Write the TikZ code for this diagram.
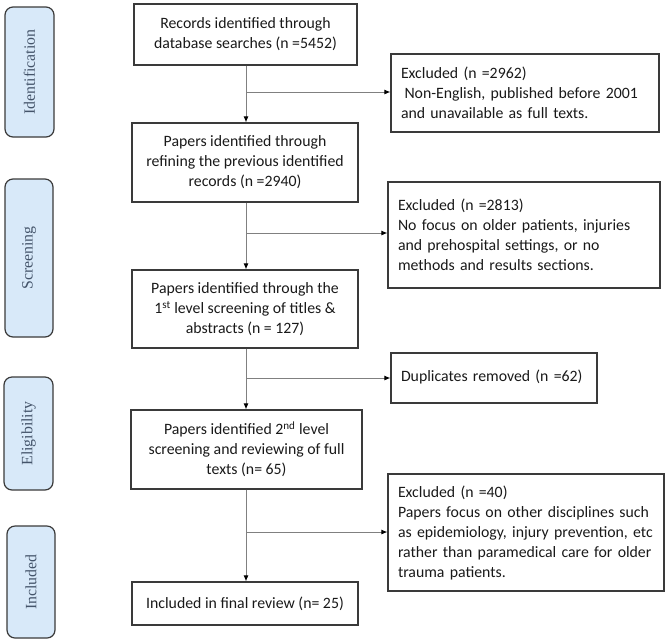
\documentclass[tikz,border=0pt]{standalone}
\usepackage{fontspec}
\setmainfont{Carlito}
\newfontfamily\tnr{Liberation Serif}
\usetikzlibrary{arrows.meta}
\definecolor{sidefill}{HTML}{D8E9F9}
\definecolor{sidetext}{HTML}{44546A}
\definecolor{boxline}{HTML}{3A3A3A}
\definecolor{arrline}{HTML}{808080}
\begin{document}
\begin{tikzpicture}[x=1pt,y=-1pt,
  mainbox/.style={draw=boxline,line width=1.2pt,align=center,inner sep=0pt,
    font=\fontsize{15.8}{20}\selectfont,text=black!90},
  sidebox/.style={draw=boxline,line width=1.2pt,fill=sidefill,rounded corners=8pt,
    rotate=90,inner sep=0pt,font=\tnr\fontsize{15.8}{20}\selectfont,text=sidetext},
  exbox/.style={draw=boxline,line width=1.2pt,align=left,inner xsep=10pt,inner ysep=0pt,
    font=\fontsize{15.8}{20}\selectfont,text=black!90},
  flow/.style={draw=arrline,line width=0.9pt,-{Latex[length=6pt,width=5pt,color=black]}},
  branch/.style={draw=arrline,line width=0.9pt}
]
\useasboundingbox (0,0) rectangle (666,641);

% side labels
\node[sidebox,minimum width=130pt,minimum height=49pt] (L1) at (29.5,72) {Identification};
\node[sidebox,minimum width=158pt,minimum height=48pt] (L2) at (29,258) {Screening};
\node[sidebox,minimum width=113pt,minimum height=49pt] (L3) at (28.5,433.5) {Eligibility};
\node[sidebox,minimum width=112pt,minimum height=48pt] (L4) at (31,582) {Included};

% main boxes
\node[mainbox,minimum width=223pt,minimum height=61pt] (B1) at (245.5,34.5)
  {Records identified through\\database searches (n =5452)};
\node[mainbox,minimum width=226pt,minimum height=79pt] (B2) at (245,162.5)
  {Papers identified through\\refining the previous identified\\records (n =2940)};
\node[mainbox,minimum width=226pt,minimum height=78pt] (B3) at (245,309)
  {Papers identified through the\\1\textsuperscript{st} level screening of titles \&\\abstracts (n = 127)};
\node[mainbox,minimum width=231pt,minimum height=79pt] (B4) at (246.5,449.5)
  {Papers identified 2\textsuperscript{nd} level\\screening and reviewing of full\\texts (n= 65)};
\node[mainbox,minimum width=226pt,minimum height=43pt] (B5) at (245,603.5)
  {Included in final review (n= 25)};

% exclusion boxes
\node[exbox,text width=248pt,minimum height=78pt] (E1) at (525,93)
  {Excluded (n =2962)\\\hspace*{3.5pt}Non-English, published before 2001\\and unavailable as full texts.};
\node[exbox,text width=252pt,minimum height=106pt] (E2) at (524,235)
  {Excluded (n =2813)\\No focus on older patients, injuries\\and prehospital settings, or no\\methods and results sections.};
\node[exbox,text width=186pt,minimum height=50pt] (D) at (494,378)
  {\raisebox{5pt}{Duplicates removed (n =62)}};
\node[exbox,text width=256pt,minimum height=117pt] (E4) at (526,532.5)
  {Excluded (n =40)\\Papers focus on other disciplines such\\as epidemiology, injury prevention, etc\\rather than paramedical care for older\\trauma patients.};

% vertical flow
\coordinate (A) at (246,0);
\draw[flow] (B1.south -| A) -- (B2.north -| A);
\draw[flow] (B2.south -| A) -- (B3.north -| A);
\draw[flow] (B3.south -| A) -- (B4.north -| A);
\draw[flow] (B4.south -| A) -- (B5.north -| A);

% branches
\coordinate (J1) at (246,92);
\coordinate (J2) at (246,233);
\coordinate (J3) at (246,378);
\coordinate (J4) at (246,532);
\draw[flow] (J1) -- (J1 -| E1.west);
\draw[flow] (J2) -- (J2 -| E2.west);
\draw[flow] (J3) -- (J3 -| D.west);
\draw[flow] (J4) -- (J4 -| E4.west);
\end{tikzpicture}
\end{document}
